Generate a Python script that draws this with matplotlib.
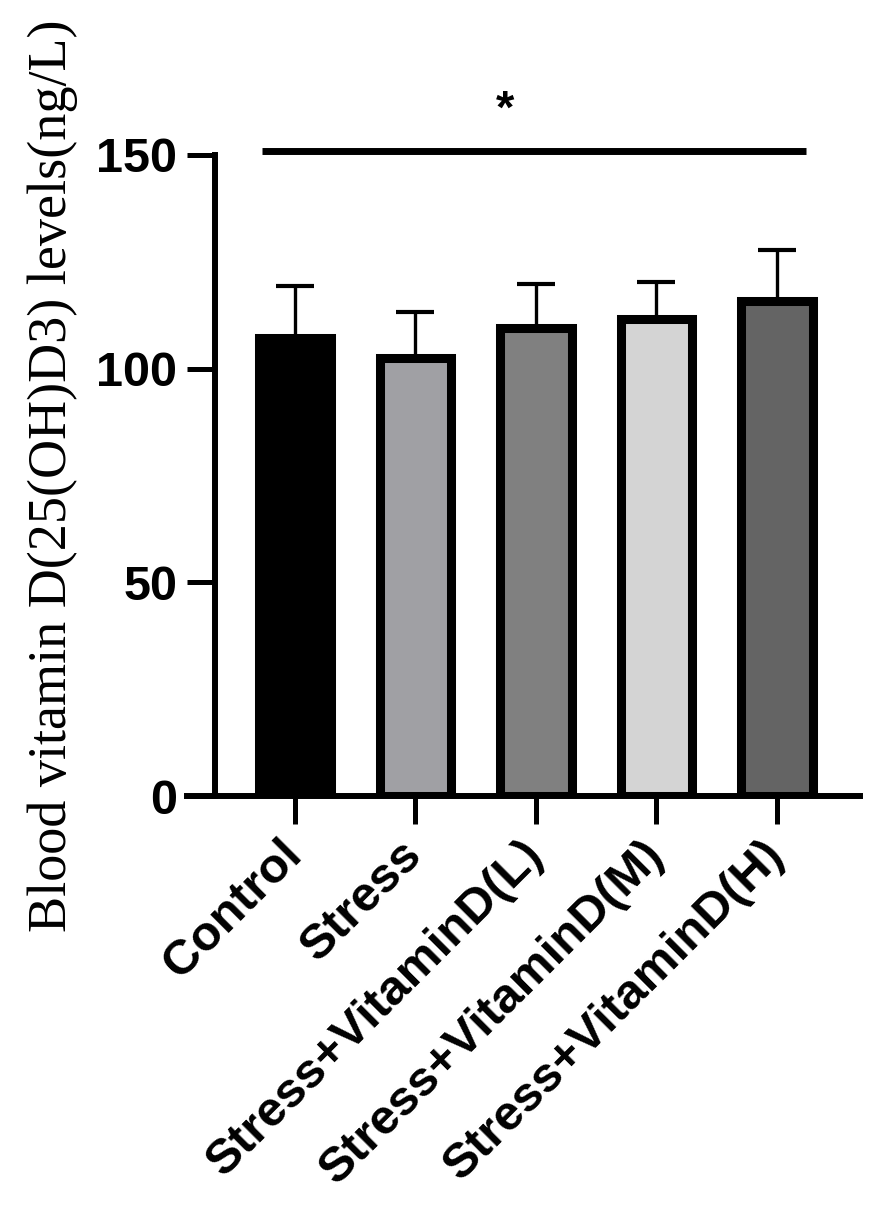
import numpy as np
import matplotlib
matplotlib.use("Agg")
import matplotlib.pyplot as plt
from matplotlib.transforms import ScaledTranslation

# values
groups = ["Control", "Stress", "Stress+VitaminD(L)",
          "Stress+VitaminD(M)", "Stress+VitaminD(H)"]
means = [107.2, 102.5, 109.5, 111.6, 115.8]
sd = [12.2, 10.8, 10.4, 8.7, 12.0]
bar_colors = ["#000000", "#a0a0a4", "#808080", "#d4d4d4", "#646464"]
yticks = [0, 50, 100, 150]
ylabel = "Blood vitamin D(25(OH)D3) levels(ng/L)"
sig_mark = "*"

sans = "Liberation Sans"
serif = "Liberation Serif"

fig = plt.figure(figsize=(8.86, 12.13), dpi=100)
ax = fig.add_axes([187 / 886, (1213 - 796) / 1213, (860 - 187) / 886, (796 - 155) / 1213])

x = np.arange(len(groups))
ax.errorbar(x, means, yerr=[np.zeros(len(sd)), sd], fmt="none", ecolor="black",
            elinewidth=2.4, capsize=14, capthick=3, zorder=1)
ax.bar(x, means, width=0.59, color=bar_colors, edgecolor="black",
       linewidth=6.5, zorder=2)

# significance bar over all groups
ax.plot([-0.274, 4.24], [150.9, 150.9], color="black", lw=5,
        solid_capstyle="butt", clip_on=False)
ax.text(1.743, 157.6, sig_mark, ha="center", va="baseline", fontsize=34,
        fontweight="bold", family=sans, clip_on=False)

ax.set_xlim(-0.896, 4.689)
ax.set_ylim(0, 150)
ax.set_yticks(yticks)
ax.set_xticks(x)
ax.set_xticklabels(groups, rotation=45, ha="right", va="center",
                   rotation_mode="anchor")

for s in ["top", "right"]:
    ax.spines[s].set_visible(False)
ax.spines["left"].set_position(("data", -0.664))
ax.spines["left"].set_linewidth(4.3)
ax.spines["bottom"].set_linewidth(4.3)
ax.tick_params(axis="both", direction="out", length=20, width=3.6,
               labelsize=35, pad=7)
for lab in ax.get_xticklabels() + ax.get_yticklabels():
    lab.set_fontfamily(sans)
    lab.set_fontweight("bold")

offset = ScaledTranslation(0, -14 / 100, fig.dpi_scale_trans)
for lab in ax.get_xticklabels():
    lab.set_fontsize(35.5)
    lab.set_transform(lab.get_transform() + offset)

ax.set_ylabel(ylabel, fontsize=39, family=serif)
ax.yaxis.set_label_coords(-0.162, 0.5)

fig.savefig("out.png", dpi=100)
